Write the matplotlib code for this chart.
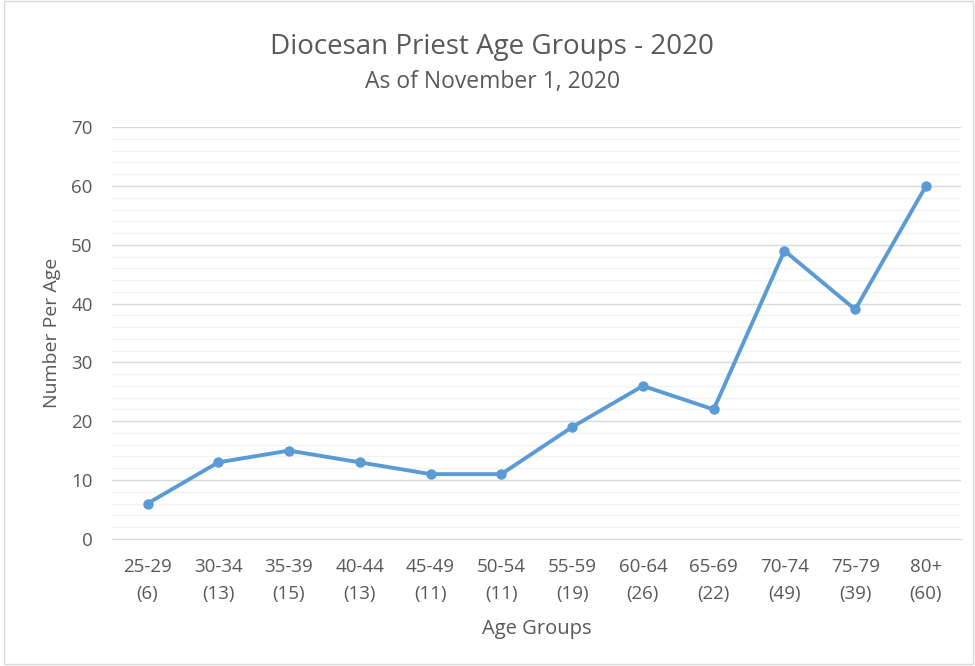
import numpy as np
import matplotlib.pyplot as plt
from matplotlib.patches import Rectangle
from matplotlib.ticker import MultipleLocator

# Age group data
age_groups = ["25-29", "30-34", "35-39", "40-44", "45-49", "50-54",
              "55-59", "60-64", "65-69", "70-74", "75-79", "80+"]
priest_counts = [6, 13, 15, 13, 11, 11, 19, 26, 22, 49, 39, 60]

LINE_COLOR = "#5B9BD5"
TEXT_COLOR = "#595959"

plt.rcParams["font.family"] = ["Open Sans", "DejaVu Sans"]

fig = plt.figure(figsize=(9.75, 6.66), dpi=100)
ax = fig.add_axes([0.115, 0.191, 0.871, 0.618])

x = np.arange(len(age_groups))
ax.plot(x, priest_counts, color=LINE_COLOR, linewidth=2.8,
        marker="o", markersize=6.5, zorder=3)

# Axis ranges and ticks
ax.set_xlim(-0.5, len(age_groups) - 0.5)
ax.set_ylim(0, 70)
ax.yaxis.set_major_locator(MultipleLocator(10))
ax.yaxis.set_minor_locator(MultipleLocator(2))
ax.set_xticks(x)
ax.set_xticklabels([f"{g}\n({c})" for g, c in zip(age_groups, priest_counts)],
                   linespacing=1.6)

# Gridlines
ax.grid(axis="y", which="major", color="#D9D9D9", linewidth=1.0)
ax.grid(axis="y", which="minor", color="#F2F2F2", linewidth=1.0)
ax.set_axisbelow(True)

for side in ["top", "right", "left"]:
    ax.spines[side].set_visible(False)
ax.spines["bottom"].set_color("#D9D9D9")

ax.tick_params(axis="both", which="both", length=0, labelsize=13.5,
               labelcolor=TEXT_COLOR)
ax.tick_params(axis="y", pad=14)
ax.tick_params(axis="x", pad=14)

ax.set_xlabel("Age Groups", fontsize=14.5, color=TEXT_COLOR, labelpad=12)
ax.set_ylabel("Number Per Age", fontsize=14, color=TEXT_COLOR, labelpad=7)

# Titles
fig.text(0.505, 0.929, "Diocesan Priest Age Groups - 2020", ha="center",
         va="center", fontsize=20, color=TEXT_COLOR)
fig.text(0.505, 0.877, "As of November 1, 2020", ha="center",
         va="center", fontsize=16.5, color=TEXT_COLOR)

# Light border around the chart
fig.patches.append(Rectangle((0.004, 0.003), 0.994, 0.995,
                             transform=fig.transFigure, fill=False,
                             edgecolor="#D9D9D9", linewidth=1.0))

fig.savefig("out.png", dpi=100)
